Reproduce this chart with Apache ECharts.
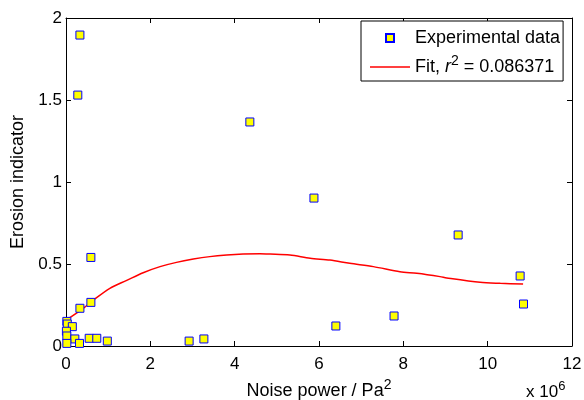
<!DOCTYPE html>
<html><head><meta charset="utf-8">
<script src="https://cdn.jsdelivr.net/npm/echarts@6/dist/echarts.min.js"></script>
<style>html,body{margin:0;padding:0;background:#fff}#c{width:584px;height:400px}</style>
</head><body><div id="c"></div>
<script>
// Data (x in units of 1e6 Pa^2)
const expX = [0.33, 0.28, 4.36, 5.88, 9.30, 10.77, 10.85, 7.78, 6.40, 0.59, 0.59, 0.33,
              0.02, 0.03, 0.15, 0.01, 0.02, 0.21, 0.32, 0.55, 0.73, 0.98, 2.92, 3.27, 0.02];
const expY = [1.896, 1.53, 1.366, 0.902, 0.677, 0.427, 0.256, 0.183, 0.122, 0.54, 0.266, 0.23,
              0.15, 0.134, 0.118, 0.09, 0.061, 0.043, 0.016, 0.047, 0.047, 0.03, 0.03, 0.043, 0.016];
const fitX = [0.03, 0.41, 0.65, 1.04, 1.44, 1.83, 2.23, 2.62, 3.02, 3.41, 3.81, 4.2, 4.6, 4.84,
              5.31, 5.79, 6.26, 6.73, 7.29, 7.92, 8.32, 8.87, 9.03, 9.82, 10.3, 10.84];
const fitY = [0.163, 0.23, 0.28, 0.352, 0.40, 0.447, 0.484, 0.51, 0.53, 0.545, 0.555, 0.561, 0.563, 0.561,
              0.555, 0.535, 0.524, 0.504, 0.484, 0.453, 0.443, 0.423, 0.415, 0.388, 0.382, 0.378];
const xTicks = [0, 2, 4, 6, 8, 10, 12];
const yTicks = [0, 0.5, 1, 1.5, 2];
const expName = 'Experimental data';
const fitName = 'Fit';
const fitLabel = ['Fit, ', 'r', '2', ' = 0.086371'];
const xTitle = ['Noise power / Pa', '2'];
const yTitle = 'Erosion indicator';
const xMult = ['x 10', '6'];

const FF = '"Liberation Sans", Arial, Helvetica, sans-serif';
const chart = echarts.init(document.getElementById('c'), null, {renderer: 'canvas'});

const xMin = xTicks[0], xMax = xTicks[xTicks.length - 1], xInt = xTicks[1] - xTicks[0];
const yMin = yTicks[0], yMax = yTicks[yTicks.length - 1], yInt = yTicks[1] - yTicks[0];

function xAxisCfg(pos, labels) {
  return {
    type: 'value', position: pos, min: xMin, max: xMax, interval: xInt,
    axisLine: {show: true, onZero: false, lineStyle: {color: '#000', width: 1}},
    axisTick: {show: true, inside: true, length: 5, lineStyle: {color: '#000'}},
    axisLabel: {show: labels, color: '#000', fontFamily: FF, fontSize: 17, margin: 10},
    splitLine: {show: false}
  };
}
function yAxisCfg(pos, labels) {
  return {
    type: 'value', position: pos, min: yMin, max: yMax, interval: yInt,
    axisLine: {show: true, onZero: false, lineStyle: {color: '#000', width: 1}},
    axisTick: {show: true, inside: true, length: 5, lineStyle: {color: '#000'}},
    axisLabel: {show: labels, color: '#000', fontFamily: FF, fontSize: 17, margin: 4},
    splitLine: {show: false}
  };
}

const xa0 = xAxisCfg('bottom', true);
xa0.name = '{n|' + xTitle[0] + '}{s|' + xTitle[1] + '}';
xa0.nameLocation = 'middle';
xa0.nameGap = 32;
xa0.nameTextStyle = {
  color: '#000', fontFamily: FF, fontSize: 18,
  rich: {
    n: {fontFamily: FF, fontSize: 18, color: '#000', lineHeight: 26},
    s: {fontFamily: FF, fontSize: 14, color: '#000', lineHeight: 10, verticalAlign: 'top'}
  }
};
const ya0 = yAxisCfg('left', true);
ya0.name = yTitle;
ya0.nameLocation = 'middle';
ya0.nameGap = 38;
ya0.nameTextStyle = {color: '#000', fontFamily: FF, fontSize: 18};

const option = {
  backgroundColor: '#fff',
  animation: false,
  grid: {left: 66, right: 12, top: 18, bottom: 54, containLabel: false, outerBoundsMode: 'none'},
  xAxis: [xa0, xAxisCfg('top', false)],
  yAxis: [ya0, yAxisCfg('right', false)],
  legend: {
    orient: 'vertical', left: 361, top: 21,
    itemWidth: 40, itemHeight: 10, itemGap: 7,
    padding: [8, 3, 5, 8],
    borderColor: '#000', borderWidth: 1, backgroundColor: '#fff',
    textStyle: {
      color: '#000', fontFamily: FF, fontSize: 18,
      rich: {
        n: {fontFamily: FF, fontSize: 18, color: '#000', lineHeight: 26},
        i: {fontFamily: FF, fontSize: 18, color: '#000', lineHeight: 26, fontStyle: 'italic'},
        s: {fontFamily: FF, fontSize: 14, color: '#000', lineHeight: 10, verticalAlign: 'top'}
      }
    },
    formatter: function (name) {
      if (name === fitName) {
        return '{n|' + fitLabel[0] + '}{i|' + fitLabel[1] + '}{s|' + fitLabel[2] + '}{n|' + fitLabel[3] + '}';
      }
      return '{n|' + name + '}';
    },
    data: [
      {name: expName, icon: 'path://M0,0 M40,10 M16,1 L24,1 L24,9 L16,9 Z'},
      {name: fitName, icon: 'path://M0,0 M40,10 M0,4.25 L40,4.25 L40,5.75 L0,5.75 Z',
       itemStyle: {color: '#ff0000', borderWidth: 0}}
    ]
  },
  graphic: [{
    type: 'text', left: 526, top: 380,
    style: {
      text: '{n|' + xMult[0] + '}{s|' + xMult[1] + '}',
      rich: {
        n: {fontFamily: FF, fontSize: 17, fill: '#000', lineHeight: 24},
        s: {fontFamily: FF, fontSize: 13, fill: '#000', lineHeight: 10, verticalAlign: 'top'}
      }
    }
  }],
  series: [
    {
      name: expName, type: 'scatter',
      data: expX.map((x, i) => [x, expY[i]]),
      symbol: 'rect', symbolSize: 8,
      itemStyle: {color: '#ffff00', borderColor: '#0000ff', borderWidth: 1, opacity: 1},
      z: 3
    },
    {
      name: fitName, type: 'line',
      data: fitX.map((x, i) => [x, fitY[i]]),
      showSymbol: false, symbol: 'none', smooth: 0.3,
      lineStyle: {color: '#ff0000', width: 1.5},
      itemStyle: {color: '#ff0000'},
      z: 2
    }
  ]
};
chart.setOption(option);
</script>
</body></html>
